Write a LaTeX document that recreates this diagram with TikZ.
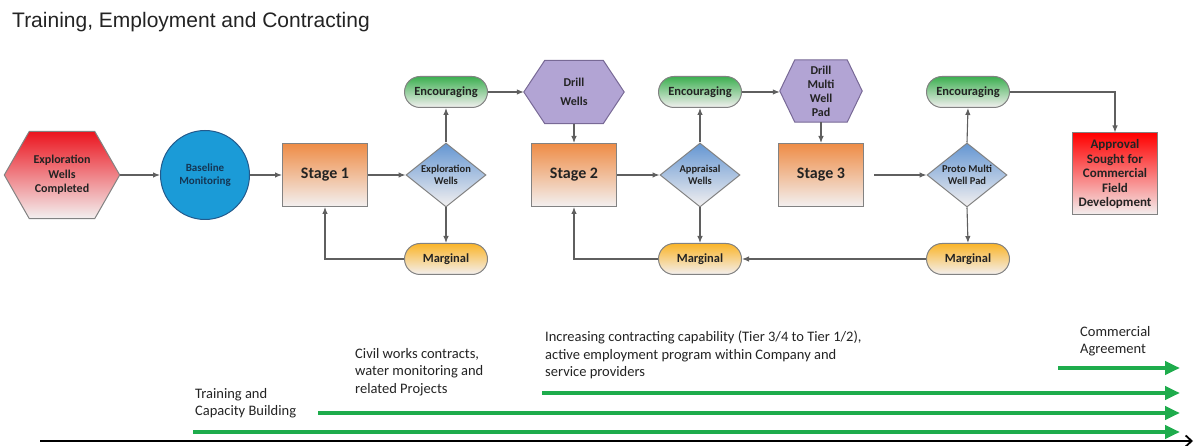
\documentclass[tikz,border=0pt]{standalone}
\usepackage{fontspec}
\setmainfont{Carlito}
\newfontfamily\titlefont{Liberation Sans}
\usetikzlibrary{shapes.geometric,shapes.misc,arrows.meta,backgrounds,calc}
\definecolor{lineg}{RGB}{95,95,95}
\definecolor{bordg}{RGB}{130,130,130}
\definecolor{ggreen}{RGB}{30,172,76}
\definecolor{stageor}{RGB}{238,140,70}
\definecolor{lightbg}{RGB}{243,240,240}
\definecolor{encg}{RGB}{60,175,80}
\definecolor{margy}{RGB}{250,180,40}
\definecolor{diabl}{RGB}{100,150,210}
\definecolor{purp}{RGB}{178,164,212}
\definecolor{purpb}{RGB}{120,105,150}
\definecolor{blcirc}{RGB}{27,155,215}
\definecolor{blcircb}{RGB}{35,90,140}
\definecolor{redtop}{RGB}{235,20,30}
\definecolor{txt}{RGB}{35,35,35}
\newcommand\hexshape[3]{%
  \begin{pgfonlayer}{background}
  \path[#3] (#1.west) -- ([xshift=#2]#1.north west) -- ([xshift=-#2]#1.north east)
    -- (#1.east) -- ([xshift=-#2]#1.south east) -- ([xshift=#2]#1.south west) -- cycle;
  \end{pgfonlayer}}
\begin{document}
\begin{tikzpicture}[x=1pt,y=-1pt,
  lbl/.style={font=\fontsize{10}{11.5}\selectfont\bfseries, text=txt, align=center, inner sep=0pt},
  hexbox/.style={lbl, shape=rectangle},
  stagebox/.style={draw=bordg, line width=1pt, top color=stageor, bottom color=lightbg,
     minimum width=85, minimum height=63, font=\fontsize{16}{18}\selectfont\bfseries, text=txt},
  decbox/.style={lbl, shape=diamond, draw=bordg, line width=1pt, top color=diabl, bottom color=lightbg,
     minimum width=80, minimum height=64, aspect=1.25, font=\fontsize{10.5}{12.5}\selectfont\bfseries},
  encbox/.style={lbl, shape=rounded rectangle, draw=bordg, line width=1pt, top color=encg, bottom color=lightbg,
     minimum width=83, minimum height=31, font=\fontsize{12.5}{14}\selectfont\bfseries},
  margbox/.style={encbox, top color=margy, bottom color=lightbg},
  arr/.style={draw=lineg, line width=1.1pt, -{Latex[length=7pt,width=5.5pt]}},
  garr/.style={draw=ggreen, line width=4pt, -{Triangle[length=15pt,width=13pt]}},
  btxt/.style={font=\fontsize{14.5}{17.5}\selectfont, text=txt, align=left, anchor=north west, inner sep=0pt}
]
\useasboundingbox (0,0) rectangle (1194,446);

\node[anchor=west, inner sep=0pt, text=txt, font=\titlefont\fontsize{21}{24}\selectfont] (title) at (12,22) {Training, Employment and Contracting};

% first row
\node[hexbox, minimum width=115, minimum height=87, font=\fontsize{12}{14.5}\selectfont\bfseries] (ewc) at (62,175) {Exploration\\Wells\\Completed};
\hexshape{ewc}{25}{draw=bordg, line width=1pt, top color=redtop, bottom color=lightbg}
\node[lbl, circle, draw=blcircb, line width=1pt, fill=blcirc, minimum size=89, font=\fontsize{11}{13}\selectfont\bfseries, text=blcircb!60!black] (bm) at (205,175) {Baseline\\Monitoring};
\node[stagebox] (s1) at (325,175) {Stage 1};
\node[decbox] (d1) at (446,175) {Exploration\\Wells};
\node[encbox] (e1) at (446,92) {Encouraging};
\node[margbox] (m1) at (446,259) {Marginal};

\node[hexbox, minimum width=100, minimum height=63, font=\fontsize{12}{14}\selectfont\bfseries] (dw) at (574,92) {Drill\\[5pt]Wells};
\hexshape{dw}{21}{draw=purpb, line width=1pt, fill=purp}
\node[stagebox] (s2) at (574,175) {Stage 2};
\node[decbox] (d2) at (700,175) {Appraisal\\Wells};
\node[encbox] (e2) at (700,92) {Encouraging};
\node[margbox] (m2) at (700,259) {Marginal};

\node[hexbox, minimum width=82, minimum height=62, font=\fontsize{12}{14}\selectfont\bfseries] (dm) at (821,91) {Drill\\Multi\\Well\\Pad};
\hexshape{dm}{15}{draw=purpb, line width=1pt, fill=purp}
\node[stagebox] (s3) at (821,175) {Stage 3};
\node[decbox] (d3) at (967,175) {Proto Multi\\Well Pad};
\node[encbox] (e3) at (968,92) {Encouraging};
\node[margbox] (m3) at (968,259) {Marginal};

\node[lbl, draw=bordg, line width=1pt, top color=red, bottom color=lightbg, minimum width=85, minimum height=82,
  font=\fontsize{13}{14.5}\selectfont\bfseries] (ap) at (1115,174) {Approval\\Sought for\\Commercial\\Field\\Development};

% connectors
\draw[arr] (ewc.east) -- (bm.west);
\draw[arr] (bm.east) -- (s1.west);
\draw[arr] (s1.east) -- (d1.west);
\draw[arr] (d1.north) -- (e1.south);
\draw[arr] (d1.south) -- (m1.north);
\draw[arr] (m1.west) -| (s1.south);
\draw[arr] (e1.east) -- (e1.east -| dw.west);
\draw[arr] (dw.south) -- (s2.north);
\draw[arr] (s2.east) -- (d2.west);
\draw[arr] (d2.north) -- (e2.south);
\draw[arr] (d2.south) -- (m2.north);
\draw[arr] (m2.west) -| (s2.south);
\draw[arr] (e2.east) -- (e2.east -| dm.west);
\draw[arr] (dm.south) -- (s3.north);
\draw[arr, shorten <=10pt] (s3.east) -- (d3.west);
\draw[arr] (d3.north) -- (e3.south);
\draw[arr] (d3.south) -- (m3.north);
\draw[arr] (m3.west) -- (m2.east);
\draw[arr] (e3.east) -| (ap.north);

% timeline
\coordinate (ax0) at (40,441);
\coordinate (ax1) at (1193,441);
\draw[black, line width=1.8pt, -{Straight Barb[length=6pt,width=11pt]}] (ax0) -- (ax1);

\coordinate (g1s) at (193,432); \coordinate (g1e) at (1180,432);
\coordinate (g2s) at (318,413); \coordinate (g2e) at (1180,413);
\coordinate (g3s) at (542,393); \coordinate (g3e) at (1180,393);
\coordinate (g4s) at (1058,368); \coordinate (g4e) at (1180,368);
\draw[garr] (g1s) -- (g1e);
\draw[garr] (g2s) -- (g2e);
\draw[garr] (g3s) -- (g3e);
\draw[garr] (g4s) -- (g4e);

\node[btxt] (t1) at (195,388) {Training and\\Capacity Building};
\node[btxt] (t2) at (355,348) {Civil works contracts,\\water monitoring and\\related Projects};
\node[btxt] (t3) at (545,331) {Increasing contracting capability (Tier 3/4 to Tier 1/2),\\active employment program within Company and\\service providers};
\node[btxt] (t4) at (1080,326) {Commercial\\Agreement};
\end{tikzpicture}
\end{document}
